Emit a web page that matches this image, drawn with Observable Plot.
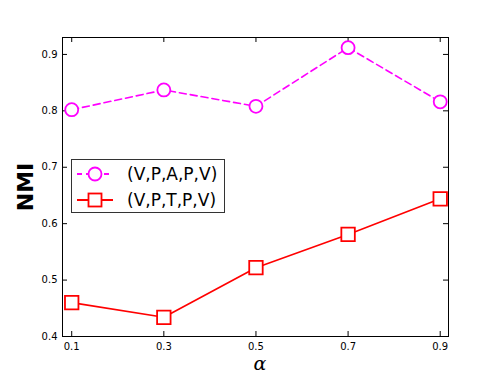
<!DOCTYPE html>
<html>
<head>
<meta charset="utf-8">
<script src="https://cdn.jsdelivr.net/npm/d3@7"></script>
<script src="https://cdn.jsdelivr.net/npm/@observablehq/plot@0.6"></script>
<style>
  html, body { margin: 0; padding: 0; background: #fff; }
  #wrap { position: relative; width: 498px; height: 374px; font-family: "DejaVu Sans", sans-serif; }
  #legend { position: absolute; left: 71px; top: 159px; width: 154px; height: 54px; border: 1px solid #333; background: #fff; box-sizing: border-box; }
  .row { position: absolute; left: 0; height: 26px; display: flex; align-items: center; }
  .row span { font-size: 17px; color: #000; margin-left: 11px; white-space: nowrap; }
</style>
</head>
<body>
<div id="wrap"></div>
<script>
const alphas = [0.1, 0.3, 0.5, 0.7, 0.9];
const vpapv = [0.802, 0.837, 0.808, 0.912, 0.816];
const vptpv = [0.460, 0.434, 0.522, 0.581, 0.644];
const seriesNames = ["(V,P,A,P,V)", "(V,P,T,P,V)"];
const xTicks = [0.1, 0.3, 0.5, 0.7, 0.9];
const yTicks = [0.4, 0.5, 0.6, 0.7, 0.8, 0.9];

const W = 498, H = 374, mL = 62, mR = 50, mT = 37, mB = 38;
const pw = W - mL - mR, ph = H - mT - mB, tl = 5;

const dataA = alphas.map((a, i) => ({a, v: vpapv[i]}));
const dataT = alphas.map((a, i) => ({a, v: vptpv[i]}));

const chart = Plot.plot({
  width: W, height: H,
  marginLeft: mL, marginRight: mR, marginTop: mT, marginBottom: mB,
  style: {fontFamily: "DejaVu Sans, sans-serif", fontSize: "10px", background: "white", color: "black"},
  x: {domain: [0.08, 0.918]},
  y: {domain: [0.4, 0.93]},
  marks: [
    Plot.axisX(xTicks, {tickSize: 0, tickPadding: 6, tickFormat: d => d.toFixed(1), fontSize: 10, label: null}),
    Plot.axisY(yTicks, {tickSize: 0, tickPadding: 5, tickFormat: d => d.toFixed(1), fontSize: 10, label: null}),
    Plot.tickX(xTicks, {x: d => d, insetTop: ph - tl, stroke: "black", strokeWidth: 1}),
    Plot.tickX(xTicks, {x: d => d, insetBottom: ph - tl, stroke: "black", strokeWidth: 1}),
    Plot.tickY(yTicks, {y: d => d, insetRight: pw - tl, stroke: "black", strokeWidth: 1}),
    Plot.tickY(yTicks, {y: d => d, insetLeft: pw - tl, stroke: "black", strokeWidth: 1}),
    Plot.line(dataA, {x: "a", y: "v", stroke: "#ff00ff", strokeWidth: 1.6, strokeDasharray: "7,4"}),
    Plot.line(dataT, {x: "a", y: "v", stroke: "red", strokeWidth: 1.6}),
    Plot.dot(dataA, {x: "a", y: "v", r: 6.5, stroke: "#ff00ff", strokeWidth: 1.8, fill: "white"}),
    Plot.dot(dataT, {x: "a", y: "v", symbol: "square", r: 7.6, stroke: "red", strokeWidth: 1.8, fill: "white"}),
    Plot.frame({stroke: "black", strokeWidth: 1})
  ]
});
const wrap = document.getElementById("wrap");
wrap.appendChild(chart);

// axis titles
const svg = d3.select(chart);
svg.append("text").attr("x", 25).attr("y", 187)
  .attr("transform", "rotate(-90,25,187)")
  .attr("text-anchor", "middle").attr("dominant-baseline", "central")
  .attr("font-family", "DejaVu Sans, sans-serif").attr("font-weight", "bold").attr("font-size", 22)
  .text("NMI");
svg.append("text").attr("x", 260).attr("y", 370)
  .attr("text-anchor", "middle")
  .attr("font-family", "DejaVu Serif, serif").attr("font-style", "italic").attr("font-size", 19)
  .text("α");

// legend
const leg = document.createElement("div");
leg.id = "legend";
const rows = [
  {name: seriesNames[0], color: "#ff00ff", dash: "5,4", sym: "circle"},
  {name: seriesNames[1], color: "red", dash: null, sym: "square"}
];
rows.forEach((r, i) => {
  const row = document.createElement("div");
  row.className = "row";
  row.style.top = (i === 0 ? 1 : 27) + "px";
  const s = d3.create("svg").attr("width", 44).attr("height", 26);
  s.append("line").attr("x1", 5).attr("x2", 41).attr("y1", 13).attr("y2", 13)
    .attr("stroke", r.color).attr("stroke-width", 1.8).attr("stroke-dasharray", r.dash);
  if (r.sym === "circle") {
    s.append("circle").attr("cx", 23).attr("cy", 13).attr("r", 6.5).attr("fill", "white").attr("stroke", r.color).attr("stroke-width", 1.8);
  } else {
    s.append("rect").attr("x", 16.5).attr("y", 6.5).attr("width", 13).attr("height", 13).attr("fill", "white").attr("stroke", r.color).attr("stroke-width", 1.8);
  }
  row.appendChild(s.node());
  const t = document.createElement("span");
  t.textContent = r.name;
  row.appendChild(t);
  leg.appendChild(row);
});
wrap.appendChild(leg);
</script>
</body>
</html>
